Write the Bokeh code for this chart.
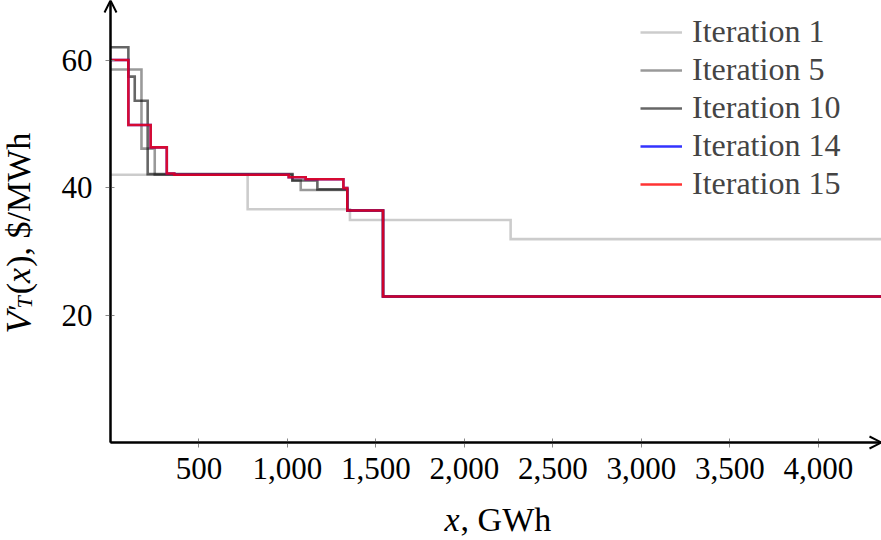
import math
from bokeh.plotting import figure
from bokeh.models import (Range1d, FixedTicker, NumeralTickFormatter, Label, Arrow, OpenHead,
                          LinearAxis)
from bokeh.embed import file_html
from bokeh.resources import INLINE

# ---- data ----
iter1_x = [0, 775, 1353, 2261, 4400]
iter1_y = [42.0, 36.6, 34.9, 31.9, 31.9]

iter5_x = [0, 175, 250, 1028, 1075, 1338, 1540, 4400]
iter5_y = [58.5, 46.1, 42.0, 41.1, 39.6, 36.4, 22.9, 22.9]

iter10_x = [0, 101, 137, 210, 1028, 1169, 1338, 1540, 4400]
iter10_y = [62.0, 57.4, 53.6, 42.1, 41.1, 39.7, 36.4, 22.9, 22.9]

iter14_x = [0, 101, 227, 318, 360, 1007, 1103, 1316, 1338, 1540, 4400]
iter14_y = [60.0, 49.8, 46.3, 42.2, 42.0, 41.6, 41.3, 39.9, 36.4, 22.9, 22.9]

iter15_x = [0, 101, 227, 318, 360, 1007, 1103, 1316, 1338, 1540, 4400]
iter15_y = [60.0, 49.8, 46.3, 42.2, 42.0, 41.6, 41.3, 39.9, 36.4, 22.9, 22.9]

series_labels = ["Iteration 1", "Iteration 5", "Iteration 10", "Iteration 14", "Iteration 15"]
x_ticks = [500, 1000, 1500, 2000, 2500, 3000, 3500, 4000]
y_ticks = [20, 40, 60]

# layout: the frame covers the whole canvas; axes sit at x=0 / y=0
W_PX, H_PX = 881, 540
X0_PX, Y0_PX = 110, 442          # canvas position of the origin
PX_PER_X = 0.17697
PX_PER_Y = 6.375
X_MAX = (W_PX - X0_PX) / PX_PER_X
Y_MAX = Y0_PX / PX_PER_Y
X_MIN = -X0_PX / PX_PER_X
Y_MIN = -(H_PX - Y0_PX) / PX_PER_Y

FONT = "Liberation Serif"

p = figure(width=W_PX, height=H_PX, output_backend="svg", toolbar_location=None,
           x_range=Range1d(X_MIN, X_MAX), y_range=Range1d(Y_MIN, Y_MAX),
           x_axis_location=None, y_axis_location=None,
           min_border_left=0, min_border_right=0, min_border_top=0, min_border_bottom=0)
p.outline_line_color = None
p.background_fill_color = "white"
p.border_fill_color = "white"
p.grid.visible = False

styles = [("black", 0.2), ("black", 0.4), ("black", 0.6), ("blue", 0.8), ("red", 0.8)]
data = [(iter1_x, iter1_y), (iter5_x, iter5_y), (iter10_x, iter10_y),
        (iter14_x, iter14_y), (iter15_x, iter15_y)]
for (xs, ys), (col, a), lab in zip(data, styles, series_labels):
    p.step(xs, ys, mode="after", line_color=col, line_alpha=a, line_width=2.6,
           line_join="miter", legend_label=lab)

# axes
xaxis = LinearAxis(fixed_location=0, bounds=(0, X_MAX), ticker=FixedTicker(ticks=x_ticks),
                   formatter=NumeralTickFormatter(format="0,0"))
yaxis = LinearAxis(fixed_location=0, bounds=(0, Y_MAX), ticker=FixedTicker(ticks=y_ticks))
for ax in (xaxis, yaxis):
    ax.axis_line_color = "black"
    ax.axis_line_width = 2
    ax.major_tick_in = 4
    ax.major_tick_out = 5
    ax.major_tick_line_color = "#888888"
    ax.major_tick_line_width = 1
    ax.minor_tick_line_color = None
    ax.major_label_text_font = FONT
    ax.major_label_text_font_size = "31px"
    ax.major_label_text_color = "black"
yaxis.major_label_standoff = 13
xaxis.major_label_standoff = 10
p.add_layout(xaxis, "below")
p.add_layout(yaxis, "left")

# axis arrows
p.add_layout(Arrow(x_start=0, y_start=0, x_end=0, y_end=Y_MAX, line_width=2, line_color="black",
                   end=OpenHead(size=12, line_width=2, line_color="black")))
p.add_layout(Arrow(x_start=0, y_start=0, x_end=X_MAX, y_end=0, line_width=2, line_color="black",
                   end=OpenHead(size=12, line_width=2, line_color="black")))

# legend
lg = p.legend[0]
lg.location = (630, 328)
lg.label_text_font = FONT
lg.label_text_font_size = "32px"
lg.glyph_width = 42
lg.glyph_height = 32
lg.label_height = 32
lg.label_standoff = 10
lg.spacing = 1
lg.padding = 10
lg.margin = 0
lg.border_line_alpha = 0
lg.background_fill_alpha = 0

# ---- axis titles built from pieces (italic math parts) ----
W = {'(': 0.333, ')': 0.333, ',': 0.25, ' ': 0.25, '$': 0.5, '/': 0.278, 'M': 0.889,
     'W': 0.944, 'h': 0.5, 'G': 0.722}
WI = {'x': 0.444, 'V': 0.611, 'T': 0.556}

def width(s, size, italic=False):
    tab = WI if italic else W
    return sum(tab.get(c, 0.5) for c in s) * size

def add_label(text, sx, sy, size, italic=False, angle=0.0):
    p.add_layout(Label(x=sx, y=sy, x_units="screen", y_units="screen", text=text,
                       angle=angle, text_font=FONT, text_font_size=f"{size}px",
                       text_font_style="italic" if italic else "normal",
                       text_align="left", text_baseline="alphabetic", text_color="black"))

# y label, rotated, read bottom to top (screen units from the canvas bottom-left)
A = math.pi / 2
bx = 18
y0 = H_PX - 333
add_label("V", bx, y0, 36, italic=True, angle=A)
y1 = y0 + width("V", 36, True) + 3
add_label("\u2032", bx - 1, y1 - 2, 28, angle=A)
add_label("T", bx + 6, y1, 22, italic=True, angle=A)
y2 = y1 + width("T", 22, True) + 2
add_label("(", bx, y2, 34, angle=A)
y3 = y2 + width("(", 34)
add_label("x", bx, y3, 34, italic=True, angle=A)
y4 = y3 + width("x", 34, True) + 1
add_label("), $/MWh", bx, y4, 34, angle=A)

# x label
xs0 = 444
xl_y = H_PX - 532 + 13
add_label("x", xs0, xl_y, 34, italic=True)
add_label(", GWh", xs0 + width("x", 34, True) + 1, xl_y, 34)

open("out.html", "w").write(file_html(p, INLINE))
